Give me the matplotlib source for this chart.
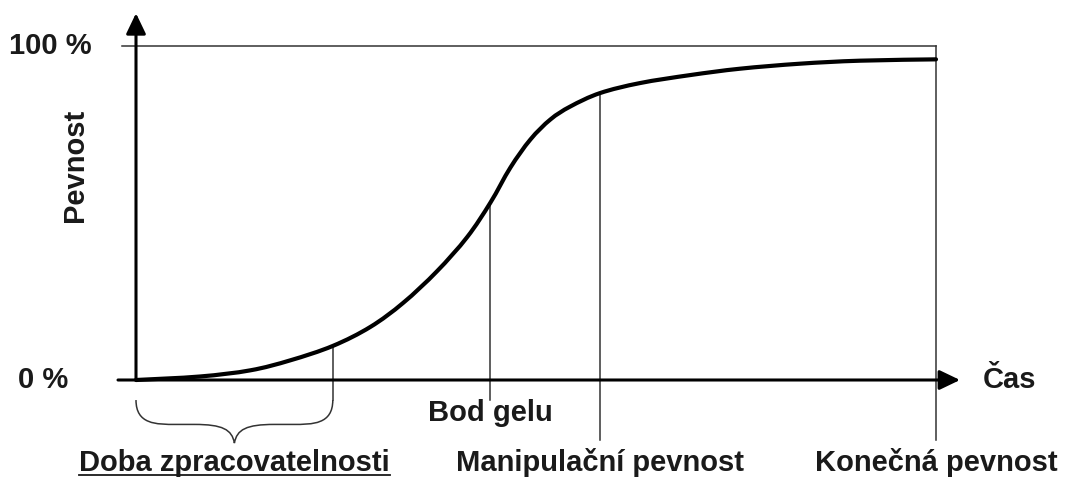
import matplotlib.pyplot as plt
from matplotlib.path import Path
from matplotlib.patches import PathPatch
import numpy as np

plt.rcParams["font.family"] = ["Liberation Sans", "DejaVu Sans"]

# S-krivka vytvrzovani: cas (rel. jednotky) a pevnost (%)
cas = [0.0, 0.8, 1.43, 1.93, 2.46, 2.93, 3.34, 3.76, 4.14, 4.43, 4.68,
       4.93, 5.18, 5.43, 5.8, 6.3, 6.93, 7.55, 8.3, 9.05, 10.0]
pevnost = [0.0, 1.05, 2.9, 5.9, 10.2, 15.9, 23.1, 32.5, 42.8, 53.1, 63.6,
           72.0, 78.0, 81.9, 85.9, 88.9, 91.3, 93.2, 94.7, 95.6, 96.0]

# body na ose casu
t_zprac = 2.46
t_gel = 4.43
t_manip = 5.8
t_konec = 10.0

popisky = ["Doba zpracovatelnosti", "Bod gelu", "Manipulační pevnost", "Konečná pevnost"]

fig = plt.figure(figsize=(10.69, 4.79), dpi=100)
ax = fig.add_axes([0, 0, 1, 1])
ax.set_xlim(-1.7, 11.6625)
ax.set_ylim(-29.64, 113.77)
ax.axis("off")


def s_at(t):
    return np.interp(t, cas, pevnost)


def hladka_cesta(xs, ys):
    # Catmull-Rom krivka pres body, vykreslena jako Bezierova cesta
    p = np.column_stack([xs, ys]).astype(float)
    verts = [tuple(p[0])]
    codes = [Path.MOVETO]
    for i in range(len(p) - 1):
        p0 = p[i - 1] if i > 0 else p[i]
        p1, p2 = p[i], p[i + 1]
        p3 = p[i + 2] if i + 2 < len(p) else p[i + 1]
        c1 = p1 + (p2 - p0) / 6
        c2 = p2 - (p3 - p1) / 6
        verts += [tuple(c1), tuple(c2), tuple(p2)]
        codes += [Path.CURVE4] * 3
    return Path(verts, codes)


tenka = dict(color="#333333", lw=1.1)

# 100 % linka
ax.plot([-0.175, t_konec], [100, 100], zorder=1, **tenka)

# svisle linky
ax.plot([t_zprac, t_zprac], [s_at(t_zprac), -6.0], **tenka)
ax.plot([t_gel, t_gel], [s_at(t_gel), -6.0], **tenka)
ax.plot([t_manip, t_manip], [s_at(t_manip), -18.0], **tenka)
ax.plot([t_konec, t_konec], [100, -18.0], **tenka)

# osy se sipkami
ap = dict(arrowstyle="-|>,head_length=1.25,head_width=0.6", color="black", lw=2.2,
          shrinkA=0, shrinkB=0)
ax.annotate("", xy=(10.3, 0), xytext=(-0.225, 0), arrowprops=ap, zorder=3)
ax.annotate("", xy=(0, 109.8), xytext=(0, 0), arrowprops=ap, zorder=3)

# krivka
ax.add_patch(PathPatch(hladka_cesta(cas, pevnost), fill=False, edgecolor="black",
                       lw=3.0, capstyle="round", zorder=4))

# slozena zavorka
x0, x1 = 0.0, t_zprac
xm = (x0 + x1) / 2
yt, yb, yp = -6.0, -13.3, -18.9
r = 0.25
verts = [
    (x0, yt), (x0, yb), (x0 + r, yb), (x0 + 2 * r, yb),
    (xm - 2 * r, yb), (xm - 0.15, yb), (xm - 0.03, yb - 1.5), (xm, yp),
    (xm + 0.03, yb - 1.5), (xm + 0.15, yb), (xm + 2 * r, yb),
    (x1 - 2 * r, yb), (x1 - r, yb), (x1, yb), (x1, yt),
]
codes = [Path.MOVETO, Path.CURVE4, Path.CURVE4, Path.CURVE4,
         Path.LINETO, Path.CURVE4, Path.CURVE4, Path.CURVE4,
         Path.CURVE4, Path.CURVE4, Path.CURVE4,
         Path.LINETO, Path.CURVE4, Path.CURVE4, Path.CURVE4]
ax.add_patch(PathPatch(Path(verts, codes), fill=False, edgecolor="#333333", lw=1.1))

fs = 21
txt = dict(fontsize=fs, fontweight="bold", color="#1a1a1a")
ax.text(-0.55, 100, "100 %", ha="right", va="center", **txt)
ax.text(-0.85, 0, "0 %", ha="right", va="center", **txt)
ax.text(-0.76, 64.4, "Pevnost", ha="center", va="center", rotation=90, **txt)
ax.text(10.59, 0, "Čas", ha="left", va="center", **txt)

ax.text(t_gel, -9.9, popisky[1], ha="center", va="center", **txt)
t1 = ax.text(xm, -24.8, popisky[0], ha="center", va="center", **txt)
ax.text(t_manip, -24.8, popisky[2], ha="center", va="center", **txt)
ax.text(t_konec, -24.8, popisky[3], ha="center", va="center", **txt)

# podtrzeni
fig.canvas.draw()
bb = t1.get_window_extent().transformed(ax.transData.inverted())
ax.plot([bb.x0, bb.x1], [bb.y0 + 0.5, bb.y0 + 0.5], color="#1a1a1a", lw=1.3)

fig.savefig("out.png", dpi=100)
